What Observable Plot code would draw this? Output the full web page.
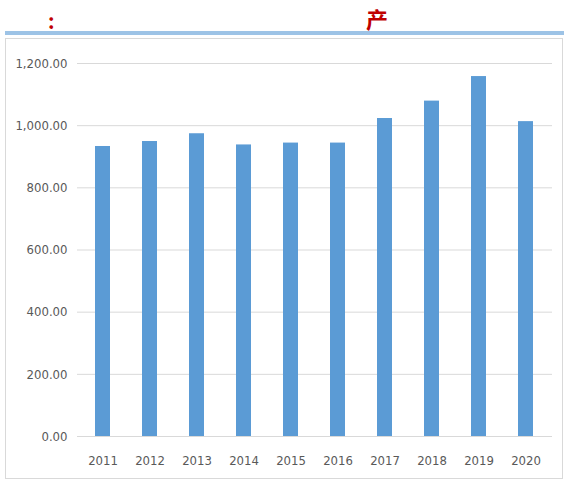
<!DOCTYPE html>
<html>
<head>
<meta charset="utf-8">
<script src="https://cdn.jsdelivr.net/npm/d3@7"></script>
<script src="https://cdn.jsdelivr.net/npm/@observablehq/plot@0.6"></script>
<style>
  html, body { margin: 0; padding: 0; background: #fff; width: 564px; height: 482px; overflow: hidden; }
  #hdr { position: absolute; left: 0; top: 0; width: 564px; height: 38px; }
  .red { position: absolute; color: #c00000; font-family: "Noto Sans CJK SC", sans-serif; font-weight: bold; }
  #colon { left: 48px; top: 6px; font-size: 20px; }
  #chan { left: 366px; top: 2px; font-size: 22px; }
  #bar { position: absolute; left: 5px; top: 31px; width: 559px; height: 4px; background: #9dc3e6; }
  #box { position: absolute; left: 5px; top: 38px; width: 556px; height: 439px; border: 1px solid #d9d9d9; }
</style>
</head>
<body>
<div id="hdr">
  <span class="red" id="colon">:</span>
  <span class="red" id="chan">产</span>
  <div id="bar"></div>
</div>
<div id="box"></div>
<script>
const years = ["2011","2012","2013","2014","2015","2016","2017","2018","2019","2020"];
const values = [933, 949, 974, 938, 944, 944, 1023, 1079, 1158, 1013];
const yTicks = [0, 200, 400, 600, 800, 1000, 1200];

const data = years.map((y, i) => ({year: y, value: values[i]}));
const fmt = d3.format(",.2f");

const chart = Plot.plot({
  width: 556,
  height: 438,
  marginLeft: 71,
  marginRight: 10,
  marginTop: 24,
  marginBottom: 41,
  style: {fontFamily: "'DejaVu Sans Condensed', 'DejaVu Sans', sans-serif", fontStretch: "condensed", fontSize: "13px", color: "#595959", background: "#fff"},
  x: {domain: years, paddingInner: 0.68, paddingOuter: 0.34, label: null},
  y: {domain: [0, 1200], label: null},
  marks: [
    Plot.gridY(yTicks, {stroke: "#d9d9d9", strokeOpacity: 1}),
    Plot.barY(data, {x: "year", y: "value", fill: "#5b9bd5"}),
    Plot.axisY(yTicks, {tickFormat: fmt, tickSize: 0, tickPadding: 10, fill: "#595959", fontSize: 13}),
    Plot.axisX({tickSize: 0, tickPadding: 19, fill: "#595959", fontSize: 13})
  ]
});
document.getElementById("box").appendChild(chart);
</script>
</body>
</html>
